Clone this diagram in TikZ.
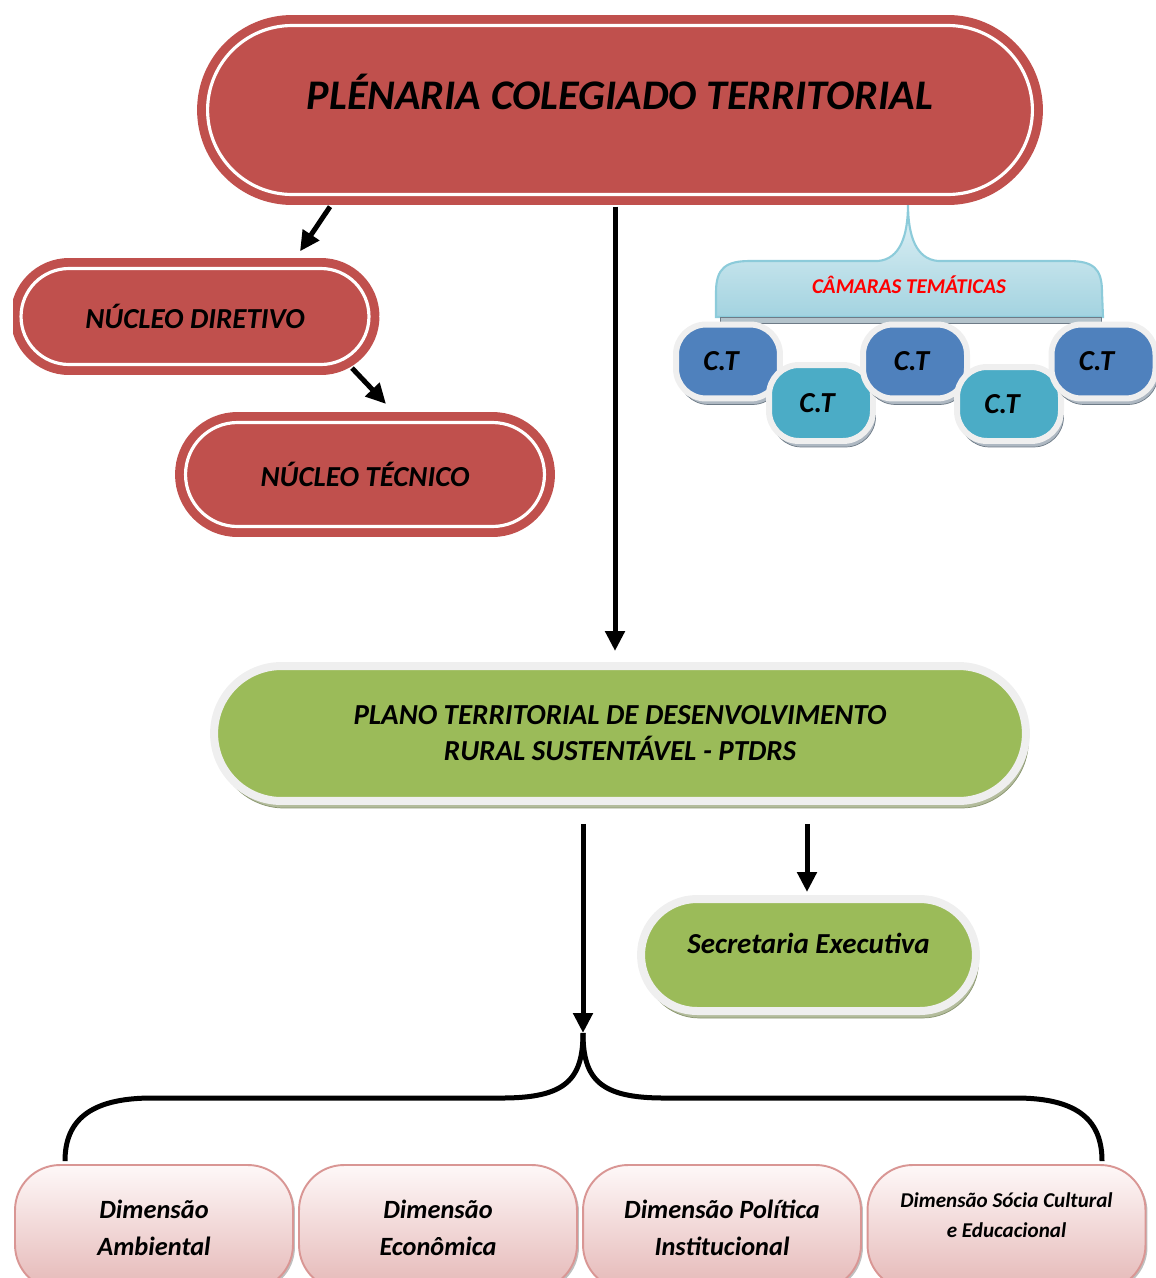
\documentclass[tikz,border=0pt]{standalone}
\usepackage{fontspec}
\setmainfont{Carlito}
\usetikzlibrary{arrows.meta,calc,shadows}
\definecolor{redC}{HTML}{C0504D}
\definecolor{greenC}{HTML}{9BBB59}
\definecolor{rimC}{HTML}{EFEFEF}
\definecolor{dblueC}{HTML}{4F81BD}
\definecolor{tealC}{HTML}{4BACC6}
\definecolor{pinkLine}{HTML}{D99694}
\definecolor{pinkBot}{HTML}{E5B8B7}
\definecolor{pinkTop}{HTML}{FEF8F8}
\definecolor{camTop}{HTML}{E2F2F6}
\definecolor{camBot}{HTML}{A3D3E0}
\definecolor{camLine}{HTML}{8CCBDA}
\definecolor{camBand}{HTML}{B4C3CB}
\definecolor{gShadow}{HTML}{B3BC9C}
\definecolor{gShadowD}{HTML}{8A9670}
\definecolor{bShadow}{HTML}{AEB8C2}
\definecolor{bShadowD}{HTML}{6E7B87}
\begin{document}
\begin{tikzpicture}[x=0.02cm,y=-0.02cm,
  redstad/.style={fill=redC, draw=white, line width=1.8pt,
    preaction={draw=redC, line width=0.42cm}, inner sep=0pt, align=center},
  greenbox/.style={fill=greenC, draw=rimC, line width=0.16cm, inner sep=0pt, align=center,
    general shadow={fill=gShadow, draw=gShadowD, line width=0.4pt, shadow xshift=0.05cm, shadow yshift=-0.14cm},
    font=\fontsize{16.5}{20.5}\selectfont\bfseries\itshape},
  ctbox/.style={draw=rimC, line width=0.12cm, rounded corners=0.6cm, minimum width=2.08cm,
    minimum height=1.48cm, inner sep=0pt,
    general shadow={fill=bShadow, draw=bShadowD, line width=0.4pt, shadow xshift=0.05cm, shadow yshift=-0.12cm},
    font=\fontsize{16.5}{20}\selectfont\bfseries\itshape},
  dimbox/.style={top color=pinkTop, bottom color=pinkBot, draw=pinkLine, line width=1.1pt,
    rounded corners=0.9cm, minimum width=5.56cm, minimum height=2.5cm, inner sep=0pt, align=center,
    general shadow={fill=black!25, shadow xshift=0.04cm, shadow yshift=-0.04cm},
    font=\fontsize{15}{21}\selectfont\bfseries\itshape},
  arr/.style={line width=0.1cm, -{Triangle[length=0.4cm,width=0.38cm]}},
  brace/.style={line width=0.1cm}
]
\useasboundingbox (0,0) rectangle (1156,1278);
\clip (0,0) rectangle (1156,1278);

% Camaras tematicas callout
\shade[top color=camTop, bottom color=camBot, draw=camLine, line width=1.2pt]
  (716,317) -- (716,292) .. controls (716,268) and (726,261) .. (750,261)
  -- (878,261) .. controls (900,259) and (908,236) .. (908,204)
  .. controls (908,236) and (916,259) .. (938,261)
  -- (1068,261) .. controls (1093,261) and (1102,268) .. (1102,292) -- (1103,317) -- cycle;
\fill[camBand, draw=bShadowD, line width=0.3pt] (720,317) rectangle (1101,323);
\node[text=red, font=\fontsize{12}{14}\selectfont\bfseries\itshape] (cam) at (909,285) {CÂMARAS TEMÁTICAS};

% Top
\node[redstad, minimum width=16.5cm, minimum height=3.38cm, rounded corners=1.69cm,
  font=\fontsize{24}{28}\selectfont\bfseries\itshape] (top) at (620,110)
  {\raisebox{10pt}[\height][\depth]{PLÉNARIA COLEGIADO TERRITORIAL}};

% Nucleo diretivo (clipped at left)
\begin{scope}
\clip (13,0) rectangle (1156,1278);
\node[redstad, minimum width=6.96cm, minimum height=1.92cm, rounded corners=0.96cm,
  font=\fontsize{16.5}{20}\selectfont\bfseries\itshape] (nd) at (195,316.5) {NÚCLEO DIRETIVO};
\end{scope}

\node[redstad, minimum width=7.18cm, minimum height=2.08cm, rounded corners=1.04cm,
  font=\fontsize{16.5}{20}\selectfont\bfseries\itshape] (nt) at (365,474.5) {NÚCLEO TÉCNICO};

% C.T boxes
\node[ctbox, fill=dblueC] (ct1) at (728,361.5) {\hspace*{-0.28cm}\raisebox{-2pt}{C.T}};
\node[ctbox, fill=tealC, minimum height=1.52cm] (ct2) at (821,403) {\hspace*{-0.16cm}\raisebox{-2pt}{C.T}};
\node[ctbox, fill=dblueC] (ct3) at (915,361.5) {\hspace*{-0.14cm}C.T};
\node[ctbox, fill=tealC] (ct4) at (1009,404) {\hspace*{-0.28cm}\raisebox{-2pt}{C.T}};
\node[ctbox, fill=dblueC] (ct5) at (1103.5,361.5) {\hspace*{-0.28cm}\raisebox{-2pt}{C.T}};

% PTDRS
\node[greenbox, minimum width=16.24cm, minimum height=2.7cm, rounded corners=1.35cm] (ptd) at (620,733.5)
  {PLANO TERRITORIAL DE DESENVOLVIMENTO\\RURAL SUSTENTÁVEL - PTDRS};

% Secretaria
\node[greenbox, minimum width=6.7cm, minimum height=2.24cm, rounded corners=1.12cm] (sec) at (808.5,955)
  {\raisebox{6.8pt}[\height][\depth]{Secretaria Executiva}};

% Dimensoes
\node[dimbox] (d1) at (154,1227.5) {Dimensão\\Ambiental};
\node[dimbox] (d2) at (438,1227.5) {Dimensão\\Econômica};
\node[dimbox] (d3) at (722,1227.5) {Dimensão Política\\Institucional};
\node[dimbox, font=\fontsize{12}{17}\selectfont\bfseries\itshape] (d4) at (1006.5,1227.5)
  {\raisebox{6.5pt}[\height][\depth]{\begin{tabular}{@{}c@{}}Dimensão Sócia Cultural\\e Educacional\end{tabular}}};

% arrows
\draw[arr] ($(top.south)+(-290,10.6)$) -- ($(nd.north)+(105,-15.6)$);
\draw[arr] ($(nd.south)+(157,2)$) -- ($(nt.north)+(21,-17)$);
\draw[arr] ($(top.south)+(-5,10.6)$) -- ($(ptd.north)+(-5,-11)$);
\coordinate (fork) at (583,1033);
\draw[arr] ($(ptd.south)+(-37,19)$) -- (fork);
\draw[arr] ($(ptd.south)+(187,19)$) -- ($(sec.north)+(-1.5,-3)$);

% brace
\draw[brace] (fork) .. controls (583,1080) and (565,1098) .. (502,1098) -- (152,1098)
  .. controls (88,1098) and (65,1122) .. ($(d1.north)+(-89,-3)$);
\draw[brace] (fork) .. controls (583,1080) and (601,1098) .. (664,1098) -- (1016,1098)
  .. controls (1080,1098) and (1102,1122) .. ($(d4.north)+(95.5,-3)$);
\end{tikzpicture}
\end{document}
